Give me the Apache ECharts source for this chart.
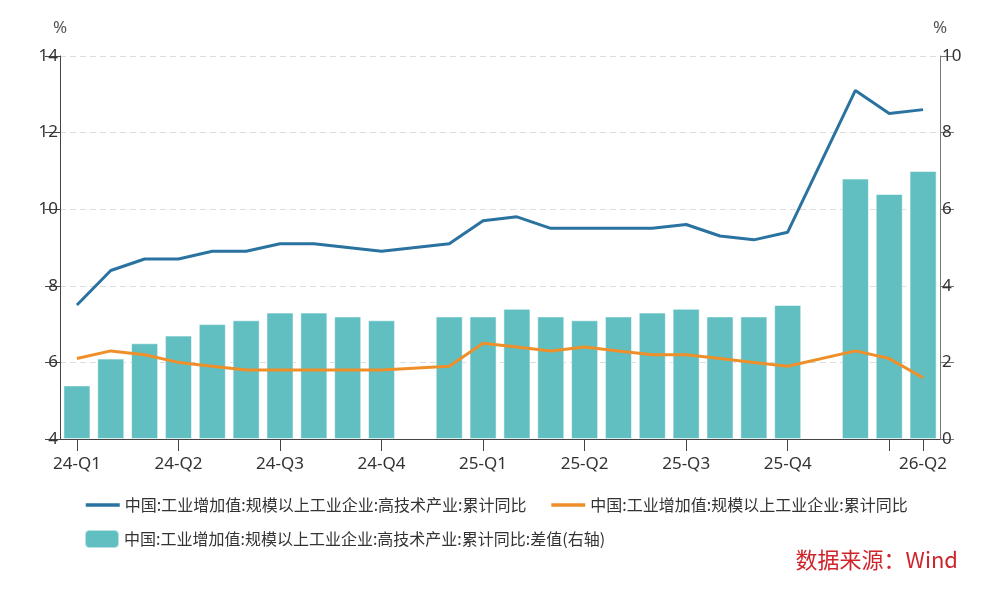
<!DOCTYPE html>
<html>
<head>
<meta charset="utf-8">
<script src="https://cdn.jsdelivr.net/npm/echarts@6/dist/echarts.min.js"></script>
<style>
  html, body { margin: 0; padding: 0; background: #ffffff; }
  #chart { width: 1000px; height: 593px; }
</style>
</head>
<body>
<div id="chart"></div>
<script>
// Monthly categories (Jan data missing -> null)
var months = ['2024-03','2024-04','2024-05','2024-06','2024-07','2024-08','2024-09','2024-10','2024-11','2024-12',
              '2025-01','2025-02','2025-03','2025-04','2025-05','2025-06','2025-07','2025-08','2025-09','2025-10','2025-11','2025-12',
              '2026-01','2026-02','2026-03','2026-04'];
var xLabels = ['24-Q1','','','24-Q2','','','24-Q3','','','24-Q4',
               '','','25-Q1','','','25-Q2','','','25-Q3','','','25-Q4',
               '','','','26-Q2'];
var tickIdx = [0,3,6,9,12,15,18,21,24,25];

var nameHiTech = '中国:工业增加值:规模以上工业企业:高技术产业:累计同比';
var nameAll = '中国:工业增加值:规模以上工业企业:累计同比';
var nameDiff = '中国:工业增加值:规模以上工业企业:高技术产业:累计同比:差值(右轴)';

var hiTech = [7.5,8.4,8.7,8.7,8.9,8.9,9.1,9.1,9.0,8.9,null,9.1,9.7,9.8,9.5,9.5,9.5,9.5,9.6,9.3,9.2,9.4,null,13.1,12.5,12.6];
var allInd = [6.1,6.3,6.2,6.0,5.9,5.8,5.8,5.8,5.8,5.8,null,5.9,6.5,6.4,6.3,6.4,6.3,6.2,6.2,6.1,6.0,5.9,null,6.3,6.1,5.6];
var diffVals = [1.4,2.1,2.5,2.7,3.0,3.1,3.3,3.3,3.2,3.1,null,3.2,3.2,3.4,3.2,3.1,3.2,3.3,3.4,3.2,3.2,3.5,null,6.8,6.4,7.0];

var leftTicks = { min: 4, max: 14, interval: 2 };
var rightTicks = { min: 0, max: 10, interval: 2 };

var chart = echarts.init(document.getElementById('chart'), null, { renderer: 'canvas' });
var labelFont = '"Noto Sans", "Noto Sans CJK SC", sans-serif';
var cjkFont = '"Noto Sans CJK SC", sans-serif';
var hiddenSymbol = { color: 'transparent', opacity: 0, borderWidth: 0 };

chart.setOption({
  backgroundColor: '#ffffff',
  animation: false,
  grid: { left: 60, right: 60, top: 56, bottom: 154, containLabel: false },
  legend: [
    {
      data: [
        { name: nameHiTech, itemStyle: hiddenSymbol, lineStyle: { width: 3.5 } },
        { name: nameAll, itemStyle: hiddenSymbol, lineStyle: { width: 3.5 } }
      ],
      left: 79, top: 492,
      orient: 'horizontal',
      itemWidth: 34, itemHeight: 18, itemGap: 23,
      textStyle: { fontSize: 16, color: '#333', fontFamily: cjkFont }
    },
    {
      data: [nameDiff],
      left: 79, top: 524,
      orient: 'horizontal',
      itemWidth: 34, itemHeight: 18, itemGap: 23,
      textStyle: { fontSize: 16, color: '#333', fontFamily: cjkFont }
    }
  ],
  graphic: [
    {
      type: 'text', right: 42, top: 549,
      style: { text: '数据来源：Wind', fontSize: 22, fill: '#d0242b', fontFamily: cjkFont }
    }
  ],
  xAxis: {
    type: 'category',
    data: months,
    boundaryGap: true,
    axisLine: { show: true, lineStyle: { color: '#444', width: 1 } },
    axisTick: {
      show: true, alignWithLabel: true, length: 12,
      lineStyle: { color: '#444' },
      interval: function (index) { return tickIdx.indexOf(index) >= 0; }
    },
    axisLabel: {
      margin: 17,
      fontSize: 17, color: '#333', fontFamily: labelFont,
      interval: function (index) { return xLabels[index] !== ''; },
      formatter: function (value, index) { return xLabels[index]; }
    },
    splitLine: { show: false }
  },
  yAxis: [
    {
      type: 'value', position: 'left',
      min: leftTicks.min, max: leftTicks.max, interval: leftTicks.interval,
      name: '%', nameLocation: 'end', nameGap: 19,
      nameTextStyle: { fontSize: 17, color: '#555', fontFamily: labelFont, align: 'center' },
      axisLine: { show: true, lineStyle: { color: '#444', width: 1 } },
      axisTick: { show: true, length: 15, lineStyle: { color: '#444' } },
      axisLabel: { margin: 2, fontSize: 17, color: '#333', fontFamily: labelFont },
      splitLine: { show: true, lineStyle: { color: '#dcdcdc', type: [6, 4], width: 1 } }
    },
    {
      type: 'value', position: 'right',
      min: rightTicks.min, max: rightTicks.max, interval: rightTicks.interval,
      name: '%', nameLocation: 'end', nameGap: 19,
      nameTextStyle: { fontSize: 17, color: '#555', fontFamily: labelFont, align: 'center' },
      axisLine: { show: true, lineStyle: { color: '#777', width: 1 } },
      axisTick: { show: true, length: 14, lineStyle: { color: '#777' } },
      axisLabel: { margin: 2, fontSize: 17, color: '#333', fontFamily: labelFont },
      splitLine: { show: false }
    }
  ],
  series: [
    {
      name: nameDiff, type: 'bar', yAxisIndex: 1,
      data: diffVals,
      barCategoryGap: '20%',
      itemStyle: { color: '#61bfc1', borderColor: 'rgba(255,255,255,0.55)', borderWidth: 1 },
      z: 1
    },
    {
      name: nameHiTech, type: 'line', yAxisIndex: 0,
      data: hiTech, connectNulls: true,
      symbol: 'none', showSymbol: false,
      lineStyle: { color: '#2a73a0', width: 3 },
      itemStyle: { color: '#2a73a0' },
      z: 3
    },
    {
      name: nameAll, type: 'line', yAxisIndex: 0,
      data: allInd, connectNulls: true,
      symbol: 'none', showSymbol: false,
      lineStyle: { color: '#ee8f2a', width: 3 },
      itemStyle: { color: '#ee8f2a' },
      z: 3
    }
  ]
});
</script>
</body>
</html>
